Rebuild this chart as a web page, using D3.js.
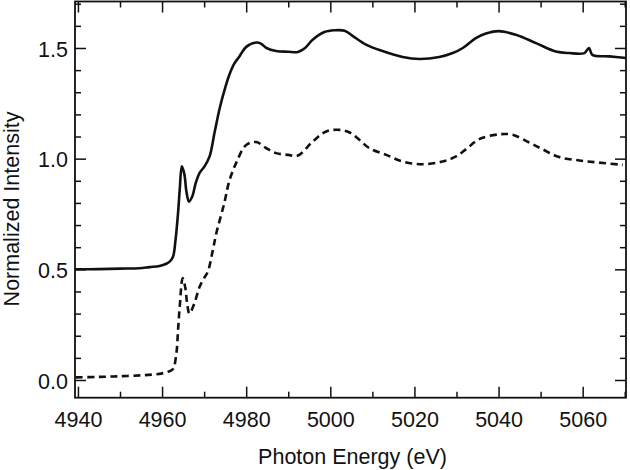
<!DOCTYPE html>
<html>
<head>
<meta charset="utf-8">
<script src="https://cdn.jsdelivr.net/npm/d3@7"></script>
<style>
  html, body { margin: 0; padding: 0; background: #fff; }
  svg { display: block; font-family: "Liberation Sans", Arial, Helvetica, sans-serif; }
</style>
</head>
<body>
<svg id="chart" width="630" height="470"></svg>
<script>
// Solid curve (upper spectrum)
const solidEnergy = [4939.3, 4945, 4950, 4954.6, 4957, 4959.4, 4961, 4961.8, 4962.6, 4963.2, 4963.8, 4964.2, 4964.7, 4965.3, 4965.8, 4966.4, 4967.2, 4968.0, 4968.9, 4970.1, 4971.3, 4972.5, 4973.7, 4975.0, 4976.0, 4977.2, 4978.4, 4980.0, 4982.4, 4983.5, 4984.8, 4987.1, 4990, 4992.3, 4994, 4995.8, 4998.6, 5001, 5003.4, 5005.3, 5008.5, 5012.4, 5017.2, 5021.2, 5025.9, 5029.1, 5031.5, 5034.6, 5037, 5040, 5044.1, 5048.9, 5053.6, 5056.8, 5060.4, 5061.5, 5062.3, 5066.3, 5070.3];
const solidIntensity = [0.500, 0.501, 0.503, 0.505, 0.510, 0.515, 0.525, 0.535, 0.557, 0.633, 0.755, 0.86, 0.965, 0.93, 0.85, 0.806, 0.83, 0.89, 0.935, 0.965, 1.01, 1.12, 1.228, 1.32, 1.379, 1.43, 1.462, 1.505, 1.525, 1.52, 1.50, 1.486, 1.483, 1.482, 1.50, 1.537, 1.572, 1.58, 1.578, 1.555, 1.515, 1.486, 1.459, 1.45, 1.459, 1.477, 1.50, 1.545, 1.565, 1.576, 1.56, 1.522, 1.484, 1.477, 1.477, 1.50, 1.469, 1.462, 1.455];

// Dashed curve (lower spectrum)
const dashedEnergy = [4939.5, 4945, 4950, 4955, 4958, 4960, 4961.5, 4962.6, 4963.4, 4963.8, 4964.2, 4964.9, 4965.5, 4966.0, 4966.5, 4967.7, 4968.9, 4970.0, 4970.9, 4972.0, 4972.9, 4974.8, 4976.0, 4977.6, 4980.0, 4982.4, 4984.8, 4987.1, 4990, 4992.3, 4995.8, 4999, 5002.2, 5004.6, 5006.9, 5009.3, 5013.3, 5017.2, 5021.9, 5026.7, 5029.9, 5032.3, 5035.4, 5040.2, 5043.3, 5047.3, 5050.4, 5054.4, 5059.2, 5063.9, 5069.5];
const dashedIntensity = [0.012, 0.014, 0.017, 0.021, 0.025, 0.03, 0.038, 0.05, 0.12, 0.226, 0.331, 0.46, 0.42, 0.34, 0.30, 0.347, 0.42, 0.46, 0.49, 0.58, 0.663, 0.80, 0.90, 0.98, 1.062, 1.075, 1.047, 1.025, 1.017, 1.014, 1.077, 1.123, 1.13, 1.118, 1.085, 1.047, 1.017, 0.987, 0.975, 0.987, 1.01, 1.043, 1.088, 1.11, 1.108, 1.073, 1.043, 1.007, 0.992, 0.982, 0.972];

const xMajorTicks = [4940, 4960, 4980, 5000, 5020, 5040, 5060];
const xMinorTicks = [4950, 4970, 4990, 5010, 5030, 5050, 5070];
const yMajorTicks = [0.0, 0.5, 1.0, 1.5];
const yMinorTicks = [0.1, 0.2, 0.3, 0.4, 0.6, 0.7, 0.8, 0.9, 1.1, 1.2, 1.3, 1.4, 1.6, 1.7];

const xTitle = "Photon Energy (eV)";
const yTitle = "Normalized Intensity";

const svg = d3.select("#chart");
const mLeft = 75, mRight = 626, mTop = 1.5, mBottom = 397.7;
const ink = "#111";
const fontSize = 21.5;

const x = d3.scaleLinear().domain([4939.3, 5070.3]).range([mLeft, mRight]);
const y = d3.scaleLinear().domain([-0.08, 1.71]).range([mBottom, mTop]);

const majorLen = 11, minorLen = 6;

function styleAxis(g) {
  g.select(".domain").remove();
  g.selectAll(".tick line").attr("stroke", ink).attr("stroke-width", 1.5);
  g.selectAll(".tick text").attr("fill", ink).style("font-size", fontSize + "px");
}

// bottom
svg.append("g").attr("transform", `translate(0,${mBottom})`)
  .call(d3.axisBottom(x).tickValues(xMajorTicks).tickSize(-majorLen).tickPadding(14).tickFormat(d3.format("d")))
  .call(styleAxis).call(g => g.selectAll(".tick text").attr("dy", "0.71em"));
svg.append("g").attr("transform", `translate(0,${mBottom})`)
  .call(d3.axisBottom(x).tickValues(xMinorTicks).tickSize(-minorLen).tickFormat(""))
  .call(styleAxis);
// top
svg.append("g").attr("transform", `translate(0,${mTop})`)
  .call(d3.axisTop(x).tickValues(xMajorTicks).tickSize(-majorLen).tickFormat(""))
  .call(styleAxis);
svg.append("g").attr("transform", `translate(0,${mTop})`)
  .call(d3.axisTop(x).tickValues(xMinorTicks).tickSize(-minorLen).tickFormat(""))
  .call(styleAxis);
// left
svg.append("g").attr("transform", `translate(${mLeft},0)`)
  .call(d3.axisLeft(y).tickValues(yMajorTicks).tickSize(-majorLen).tickPadding(7).tickFormat(d3.format(".1f")))
  .call(styleAxis).call(g => g.selectAll(".tick text").attr("dy", "0.38em"));
svg.append("g").attr("transform", `translate(${mLeft},0)`)
  .call(d3.axisLeft(y).tickValues(yMinorTicks).tickSize(-minorLen).tickFormat(""))
  .call(styleAxis);
// right
svg.append("g").attr("transform", `translate(${mRight},0)`)
  .call(d3.axisRight(y).tickValues(yMajorTicks).tickSize(-majorLen).tickFormat(""))
  .call(styleAxis);
svg.append("g").attr("transform", `translate(${mRight},0)`)
  .call(d3.axisRight(y).tickValues(yMinorTicks).tickSize(-minorLen).tickFormat(""))
  .call(styleAxis);

// frame
svg.append("rect").attr("x", mLeft).attr("y", mTop).attr("width", mRight - mLeft).attr("height", mBottom - mTop)
  .attr("fill", "none").attr("stroke", ink).attr("stroke-width", 1.8);

// curves
const line = d3.line().x(d => x(d[0])).y(d => y(d[1])).curve(d3.curveCatmullRom.alpha(0.5));
const solidData = solidEnergy.map((e, i) => [e, solidIntensity[i]]);
const dashedData = dashedEnergy.map((e, i) => [e, dashedIntensity[i]]);

svg.append("path").datum(solidData).attr("d", line)
  .attr("fill", "none").attr("stroke", ink).attr("stroke-width", 2.6).attr("stroke-linejoin", "round");
svg.append("path").datum(dashedData).attr("d", line)
  .attr("fill", "none").attr("stroke", ink).attr("stroke-width", 2.6).attr("stroke-dasharray", "7,4.5");

// titles
svg.append("text").attr("x", (mLeft + mRight) / 2 + 2).attr("y", 464).attr("text-anchor", "middle")
  .attr("fill", ink).style("font-size", fontSize + "px").text(xTitle);
svg.append("text").attr("transform", "translate(18.5,209) rotate(-90)").attr("text-anchor", "middle")
  .attr("fill", ink).style("font-size", fontSize + "px").text(yTitle);
</script>
</body>
</html>
